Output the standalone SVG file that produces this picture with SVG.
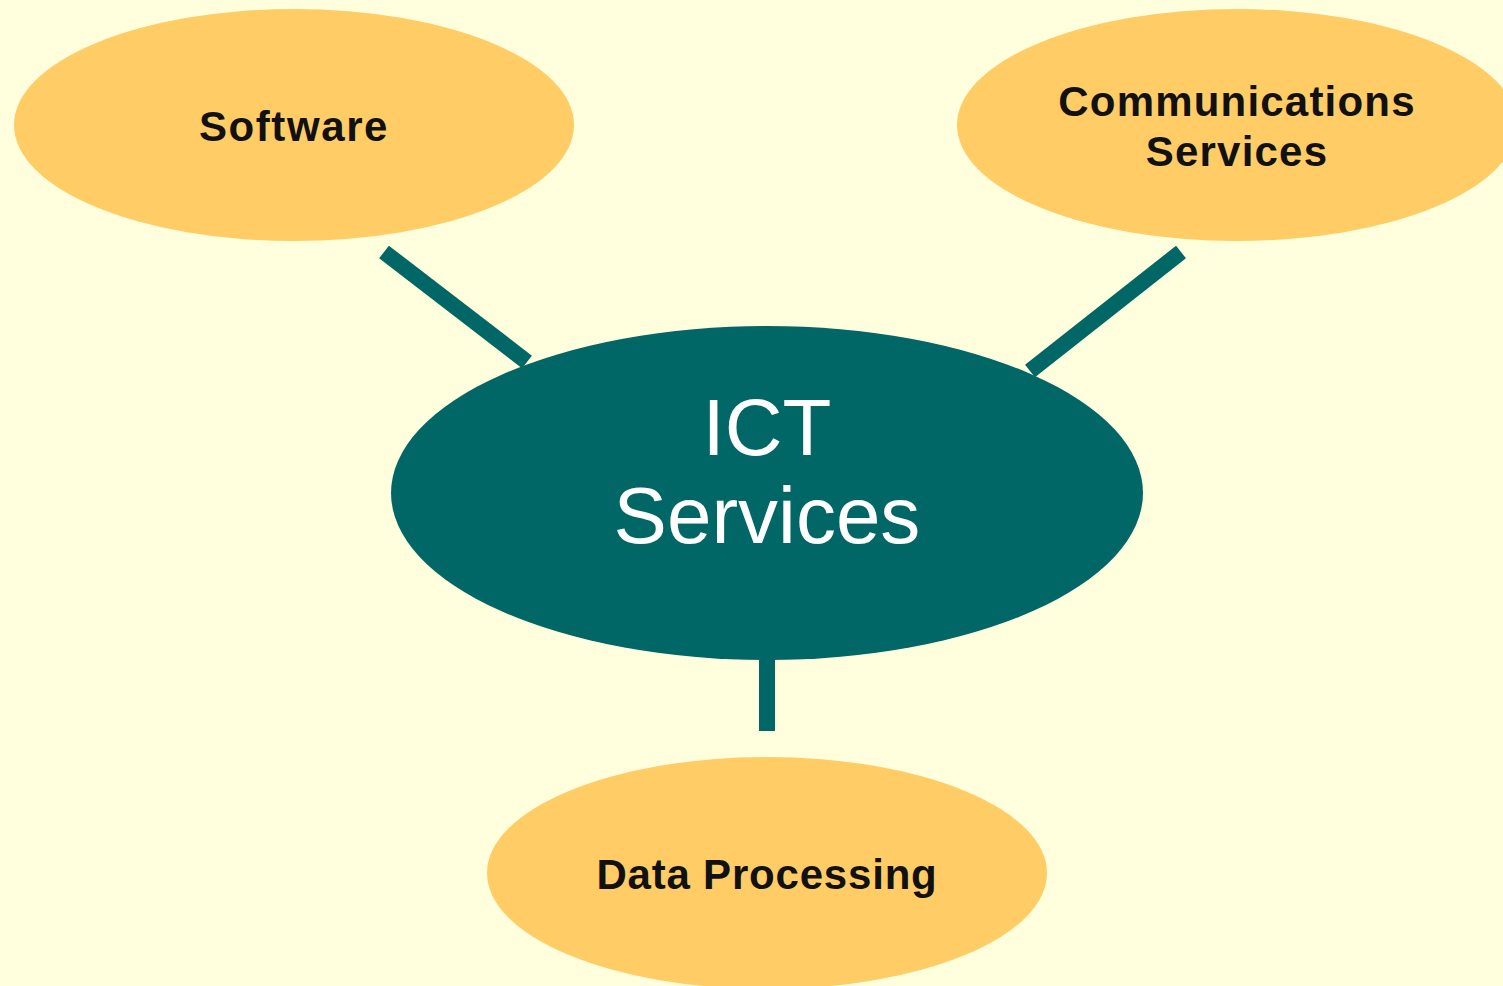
<svg xmlns="http://www.w3.org/2000/svg" width="1503" height="986" viewBox="0 0 1503 986">
<style>
.sat{fill:#FFCC66}
.hub{fill:#006666}
.lbl{font-family:"Liberation Sans",Arial,sans-serif;font-weight:bold;font-size:42px;fill:#111;text-anchor:middle;letter-spacing:1.2px}
.hlbl{font-family:"Liberation Sans",Arial,sans-serif;font-size:80px;fill:#fff;text-anchor:middle}
.con{stroke:#006666;stroke-width:16;fill:none}
</style>
<rect width="1503" height="986" fill="#FFFFDD"/>
<g id="connectors">
<line class="con" x1="384" y1="252" x2="527" y2="362"/>
<line class="con" x1="1181" y1="252" x2="1030" y2="371"/>
<line class="con" x1="767" y1="655" x2="767" y2="731"/>
</g>
<g id="software">
<ellipse class="sat" cx="294" cy="125" rx="280" ry="116"/>
<text class="lbl" x="294" y="141" style="letter-spacing:1.6px">Software</text>
</g>
<g id="communications">
<ellipse class="sat" cx="1237" cy="125" rx="280" ry="116"/>
<text class="lbl" x="1237" y="116">Communications</text>
<text class="lbl" x="1237" y="166">Services</text>
</g>
<g id="dataprocessing">
<ellipse class="sat" cx="767" cy="873" rx="280" ry="116"/>
<text class="lbl" x="767" y="889" style="letter-spacing:0.8px">Data Processing</text>
</g>
<g id="ict">
<ellipse class="hub" cx="767" cy="493" rx="376" ry="167"/>
<text class="hlbl" x="767" y="455">ICT</text>
<text class="hlbl" x="767" y="543">Services</text>
</g>
</svg>
